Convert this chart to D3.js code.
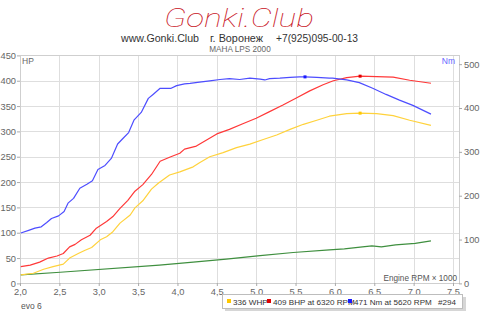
<!DOCTYPE html>
<html><head><meta charset="utf-8">
<script src="https://cdn.jsdelivr.net/npm/d3@7"></script>
<style>html,body{margin:0;padding:0;background:#fff;}svg{display:block;font-family:"Liberation Sans",Arial,sans-serif;}</style>
</head><body>
<svg id="c" width="480" height="313"></svg>
<script>
// RPM x1000 for each series
const torqueRpm = [2.01,2.11,2.19,2.27,2.34,2.40,2.49,2.56,2.61,2.68,2.76,2.85,2.92,2.99,3.08,3.16,3.24,3.31,3.38,3.45,3.54,3.63,3.69,3.78,3.92,3.99,4.09,4.16,4.28,4.41,4.54,4.66,4.79,4.92,5.05,5.11,5.17,5.30,5.43,5.55,5.62,5.77,5.93,5.97,6.15,6.31,6.48,6.65,6.82,6.99,7.22];
const torqueNm  = [115,121,126,129,139,148,154,164,183,194,217,226,234,260,269,285,318,331,344,373,390,422,431,445,445,451,455,456,459,462,465,467,465,468,466,464,467,468,470,471,471,470,468,468,464,458,445,431,418,406,386];

const bhpRpm = [2.01,2.13,2.25,2.36,2.47,2.55,2.63,2.70,2.78,2.89,2.97,3.10,3.18,3.27,3.37,3.46,3.56,3.67,3.78,3.90,4.03,4.09,4.24,4.37,4.50,4.66,4.83,5.00,5.17,5.34,5.51,5.68,5.85,5.98,6.15,6.32,6.53,6.74,6.95,7.22];
const bhpHp  = [33,36,42,50,54,59,72,77,86,95,109,122,132,148,164,182,195,215,241,249,257,265,271,283,295,304,315,326,339,352,366,380,392,400,406,409,408,407,401,395];

const whpRpm = [2.01,2.17,2.30,2.42,2.55,2.63,2.74,2.82,2.91,3.02,3.10,3.18,3.27,3.40,3.46,3.56,3.67,3.76,3.90,4.03,4.20,4.28,4.41,4.58,4.75,4.92,5.09,5.26,5.43,5.60,5.77,5.93,6.15,6.32,6.53,6.74,6.95,7.22];
const whpHp  = [17,20,28,33,38,50,59,65,71,86,92,102,119,135,149,163,186,198,214,220,230,238,250,258,268,275,284,293,304,314,322,330,335,336,335,331,322,312];

const lossRpm = [2.01,2.51,3.77,4.20,4.62,5.05,5.47,5.93,6.12,6.35,6.47,6.59,6.77,7.02,7.22];
const lossHp  = [17,22,36,42,48,55,61,66,68,72,74,72,76,79,84];

const xTicks = [2.0,2.5,3.0,3.5,4.0,4.5,5.0,5.5,6.0,6.5,7.0,7.5];
const hpTicks = [0,50,100,150,200,250,300,350,400,450];
const nmTicks = [0,100,200,300,400,500];

const peaks = [
  {rpm:5.62, v:471, axis:"nm", color:"#1a1aff"},
  {rpm:6.32, v:409, axis:"hp", color:"#e00000"},
  {rpm:6.32, v:336, axis:"hp", color:"#ffc800"}
];
const legendItems = [
  {color:"#ffc800", text:"336 WHP", x:227},
  {color:"#e00000", text:"409 BHP at 6320 RPM", x:267},
  {color:"#1a1aff", text:"471 Nm at 5620 RPM", x:348},
  {color:null, text:"#294", x:438}
];

const svg = d3.select("#c");
const L=20, R=459, T=55.4, B=283.4;
const x = d3.scaleLinear().domain([2,7.5]).range([L,453]);
const yHp = d3.scaleLinear().domain([0,450]).range([B,T]);
const yNm = d3.scaleLinear().domain([0,520]).range([B,T]);

// Header
svg.append("text").attr("x",164).attr("y",27)
  .attr("font-family","Roboto, Inter, Lato, sans-serif").attr("font-weight",100).attr("font-style","italic").attr("font-size",26)
  .attr("fill","#c8141e").attr("textLength",150).attr("lengthAdjust","spacingAndGlyphs").text("Gonki.Club");
const hdr = [["www.Gonki.Club",121,78],["г. Воронеж",210,53],["+7(925)095-00-13",276,82]];
hdr.forEach(h=>svg.append("text").attr("x",h[1]).attr("y",42).attr("font-size",11).attr("fill","#333")
  .attr("textLength",h[2]).attr("lengthAdjust","spacingAndGlyphs").text(h[0]));
svg.append("text").attr("x",240).attr("y",51.5).attr("text-anchor","middle").attr("font-size",8.2).attr("fill","#666").text("MAHA LPS 2000");

// grid
const g = svg.append("g");
g.selectAll(".hg").data(hpTicks).join("line").attr("x1",L).attr("x2",R)
  .attr("y1",d=>Math.round(yHp(d))+0.5).attr("y2",d=>Math.round(yHp(d))+0.5).attr("stroke","#dedede");
g.selectAll(".vg").data(xTicks).join("line").attr("y1",T).attr("y2",B)
  .attr("x1",d=>Math.round(x(d))+0.5).attr("x2",d=>Math.round(x(d))+0.5).attr("stroke","#dedede");
g.append("rect").attr("x",L+0.5).attr("y",Math.round(T)+0.5).attr("width",R-L).attr("height",Math.round(B)-Math.round(T))
  .attr("fill","none").attr("stroke","#cfcfcf");

// axes
const xAxis = d3.axisBottom(x).tickValues(xTicks).tickSize(3).tickPadding(2)
  .tickFormat(d=>d3.format(".1f")(d).replace(".",","));
const ax = svg.append("g").attr("transform",`translate(0,${Math.round(B)})`).call(xAxis);
const yA = d3.axisLeft(yHp).tickValues(hpTicks).tickSize(3).tickPadding(1);
const ay = svg.append("g").attr("transform",`translate(${L},0)`).call(yA);
const yR = d3.axisRight(yNm).tickValues(nmTicks).tickSize(3).tickPadding(2);
const ar = svg.append("g").attr("transform",`translate(${R},0)`).call(yR);
[ax,ay,ar].forEach(a=>{
  a.select(".domain").remove();
  a.selectAll("line").attr("stroke","#aaa");
  a.selectAll("text").attr("fill","#666").attr("font-size",9.3).attr("font-family","'Liberation Sans',Arial,sans-serif");
});

svg.append("text").attr("x",22).attr("y",64).attr("font-size",8.5).attr("fill","#666").text("HP");
svg.append("text").attr("x",455).attr("y",64).attr("text-anchor","end").attr("font-size",8.5).attr("fill","#6666ff").text("Nm");
svg.append("text").attr("x",457).attr("y",281).attr("text-anchor","end").attr("font-size",8.2).attr("fill","#555").text("Engine RPM × 1000");
svg.append("text").attr("x",21).attr("y",309).attr("font-size",8.5).attr("fill","#555").text("evo 6");

// lines
const mk = (xs,ys,ysc)=>d3.line().x((d,i)=>x(xs[i])).y(d=>ysc(d))(ys);
const lines = [
  [lossRpm,lossHp,yHp,"#3f8f3f"],
  [whpRpm,whpHp,yHp,"#ffd23c"],
  [bhpRpm,bhpHp,yHp,"#ff3838"],
  [torqueRpm,torqueNm,yNm,"#4d4dff"]
];
lines.forEach(l=>svg.append("path").attr("d",mk(l[0],l[1],l[2])).attr("fill","none")
  .attr("stroke",l[3]).attr("stroke-width",1.2).attr("stroke-linejoin","round"));

svg.selectAll(".pk").data(peaks).join("rect")
  .attr("x",d=>x(d.rpm)-1.5).attr("y",d=>(d.axis==="nm"?yNm(d.v):yHp(d.v))-1.5)
  .attr("width",3).attr("height",3).attr("fill",d=>d.color);

// legend
svg.append("rect").attr("x",225).attr("y",297).attr("width",241).attr("height",14).attr("fill","#bbb").attr("opacity",0.6);
svg.append("rect").attr("x",222.5).attr("y",294.5).attr("width",240).attr("height",14).attr("fill","#fff").attr("stroke","#bdbdbd");
const lg = svg.append("g");
legendItems.forEach(it=>{
  if(it.color){ lg.append("rect").attr("x",it.x).attr("y",299).attr("width",4).attr("height",4).attr("fill",it.color); }
  lg.append("text").attr("x",it.color?it.x+6:it.x).attr("y",305).attr("font-size",8.1).attr("fill","#333").text(it.text);
});
</script>
</body></html>
